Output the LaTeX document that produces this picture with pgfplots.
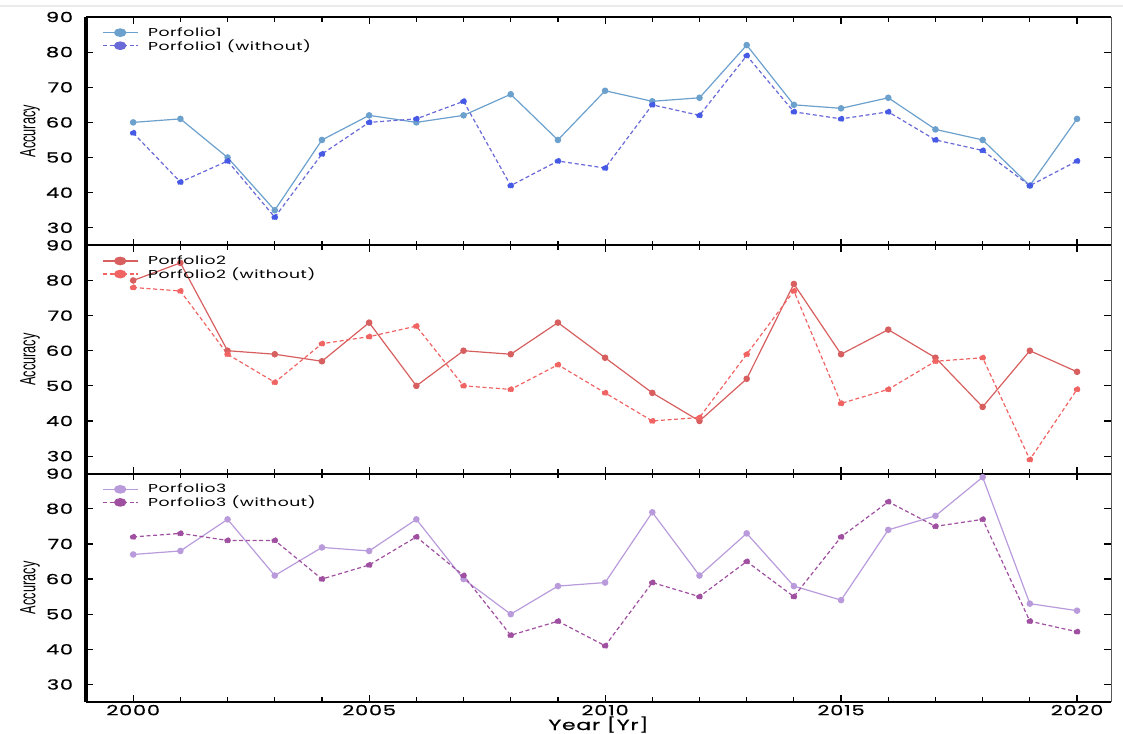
\documentclass[border=0pt]{standalone}
\usepackage{pgfplots}
\usepackage{pgfplotstable}
\pgfplotsset{compat=1.18}
\usepackage{fontspec}
\setmainfont[FakeStretch=1.5, LetterSpace=5]{Poppins}
\newfontfamily\tickfont[FakeStretch=1.5, LetterSpace=5, FakeBold=0.6]{Poppins}
\newfontfamily\narrowfont[FakeStretch=0.58]{Liberation Sans}

\definecolor{pOneS}{RGB}{108,160,205}
\definecolor{pOneD}{RGB}{105,105,215}
\definecolor{pOneDM}{RGB}{70,90,230}
\definecolor{pTwoS}{RGB}{215,95,95}
\definecolor{pTwoD}{RGB}{240,100,100}
\definecolor{pThrS}{RGB}{185,155,220}
\definecolor{pThrD}{RGB}{160,80,160}

\pgfplotstableread{
year p1 p1w p2 p2w p3 p3w
2000 60 57 80 78 67 72
2001 61 43 85 77 68 73
2002 50 49 60 59 77 71
2003 35 33 59 51 61 71
2004 55 51 57 62 69 60
2005 62 60 68 64 68 64
2006 60 61 50 67 77 72
2007 62 66 60 50 60 61
2008 68 42 59 49 50 44
2009 55 49 68 56 58 48
2010 69 47 58 48 59 41
2011 66 65 48 40 79 59
2012 67 62 40 41 61 55
2013 82 79 52 59 73 65
2014 65 63 79 77 58 55
2015 64 61 59 45 54 72
2016 67 63 66 49 74 82
2017 58 55 58 57 78 75
2018 55 52 44 58 89 77
2019 42 42 60 29 53 48
2020 61 49 54 49 51 45
}\data

\pgfplotsset{
  panel/.style={
    scale only axis, width=768.75pt, height=171.25pt,
    anchor=south west,
    xmin=1999, xmax=2020.72, ymin=25, ymax=90,
    xtick={2000,2005,2010,2015,2020}, minor x tick num=4,
    ytick={30,40,...,90},
    tick align=inside, tick pos=both,
    major tick length=5pt, minor tick length=3.5pt,
    every tick/.style={black, line width=0.9pt},
    every minor tick/.style={black, line width=0.9pt},
    separate axis lines,
    x axis line style={black, line width=1.3pt},
    y axis line style={black!65, line width=0.6pt},
    /pgf/number format/assume math mode=true,
    /pgf/number format/1000 sep={},
    yticklabel style={font=\tickfont\fontsize{10.5}{11}\selectfont, inner sep=0pt, xshift=-9.5pt},
    xticklabel style={font=\tickfont\fontsize{10.5}{11}\selectfont, inner sep=0pt, yshift=-2pt},
    ylabel={\narrowfont\fontsize{16.5}{17}\selectfont Accuracy},
    ylabel style={at={(rel axis cs:-0.0546,0.5)}, anchor=center, inner sep=0pt},
    clip=false,
    legend style={at={(rel axis cs:0,1)}, anchor=north west, xshift=12pt, yshift=-6pt,
      draw=none, fill=none, inner sep=0pt, row sep=-2pt, column sep=6pt,
      font=\fontsize{8.6}{9.5}\selectfont, nodes={inner sep=1.5pt}},
    legend cell align=left,
    legend image code/.code={\draw[mark repeat=2, mark phase=2, #1, mark options={solid, xscale=1.5, yscale=1.0}, mark size=2.8pt] plot coordinates {(0pt,0pt)(13pt,0pt)(26pt,0pt)};},
  },
  sline/.style={line width=0.9pt, mark=*, mark size=2pt, mark options={solid, xscale=1.3, yscale=0.85}},
  dline/.style={line width=0.9pt, dash pattern=on 3pt off 2pt, mark=*, mark size=2pt, mark options={solid, xscale=1.3, yscale=0.85}},
}

\begin{document}
\begin{tikzpicture}
\useasboundingbox (0,0) rectangle (842.25pt,549.75pt);
\draw[black!8, line width=1.2pt] (0pt,545.25pt) -- (842.25pt,545.25pt);

% Panel 1
\begin{axis}[panel, at={(64.5pt,365.75pt)}, xticklabels={}]
\addplot[sline, color=pOneS, mark options={fill=pOneS}] table[x=year, y=p1] {\data};
\addlegendentry{Porfolio1}
\addplot[dline, color=pOneD, mark options={fill=pOneDM, draw=pOneDM}] table[x=year, y=p1w] {\data};
\addlegendentry{Porfolio1 (without)}
\draw[black, line width=2.4pt] (rel axis cs:0,0) -- (rel axis cs:0,1);
\end{axis}

% Panel 2
\begin{axis}[panel, at={(64.5pt,194.5pt)}, xticklabels={}]
\addplot[sline, color=pTwoS, mark options={fill=pTwoS}] table[x=year, y=p2] {\data};
\addlegendentry{Porfolio2}
\addplot[dline, color=pTwoD, mark options={fill=pTwoD}] table[x=year, y=p2w] {\data};
\addlegendentry{Porfolio2 (without)}
\draw[black, line width=2.4pt] (rel axis cs:0,0) -- (rel axis cs:0,1);
\end{axis}

% Panel 3
\begin{axis}[panel, at={(64.5pt,23.25pt)},
  xlabel={\tickfont\fontsize{11}{12}\selectfont Year [Yr]},
  xlabel style={at={(rel axis cs:0.5,0)}, anchor=base, yshift=-21pt, inner sep=0pt}]
\addplot[sline, color=pThrS, mark options={fill=pThrS}] table[x=year, y=p3] {\data};
\addlegendentry{Porfolio3}
\addplot[dline, color=pThrD, mark options={fill=pThrD}] table[x=year, y=p3w] {\data};
\addlegendentry{Porfolio3 (without)}
\draw[black, line width=2.4pt] (rel axis cs:0,0) -- (rel axis cs:0,1);
\end{axis}
\end{tikzpicture}
\end{document}
